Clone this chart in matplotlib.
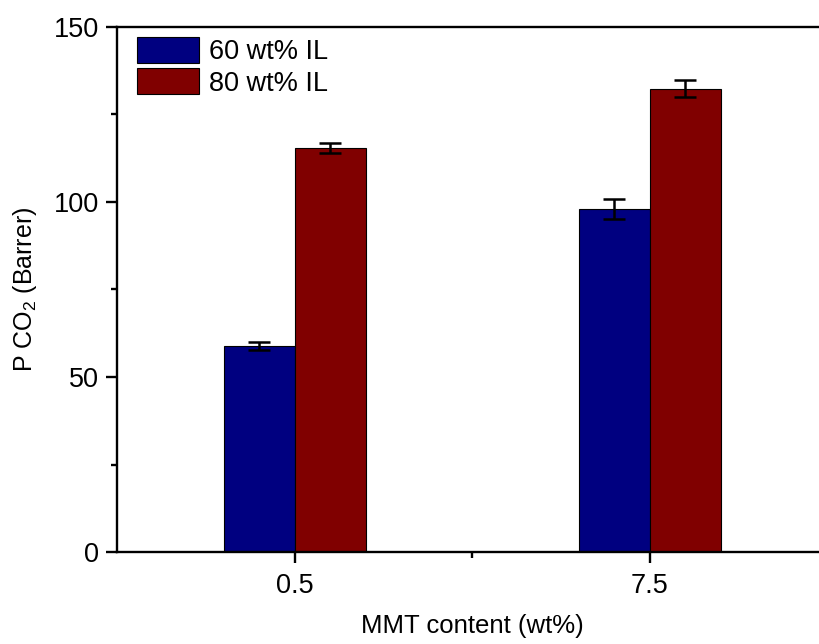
import matplotlib
matplotlib.use("Agg")
import matplotlib.pyplot as plt
import numpy as np
from matplotlib.ticker import MultipleLocator, FixedLocator

plt.rcParams['font.family'] = ['Liberation Sans', 'DejaVu Sans']
plt.rcParams['mathtext.default'] = 'regular'

categories = ["0.5", "7.5"]
series_names = ["60 wt% IL", "80 wt% IL"]
values_60 = [58.9, 98.0]
errors_60 = [1.1, 2.8]
values_80 = [115.4, 132.4]
errors_80 = [1.5, 2.4]
colors = ["#000080", "#800000"]

fig = plt.figure(figsize=(8.19, 6.44), dpi=100)
ax = fig.add_axes([117/819, 92/644, 710/819, 525/644])

x = np.arange(len(categories))
w = 0.2
ekw = dict(elinewidth=1.8, capthick=1.8, ecolor='black')
ax.bar(x - w/2, values_60, w, color=colors[0], edgecolor='black', linewidth=0.8,
       label=series_names[0], yerr=errors_60, capsize=8, error_kw=ekw, zorder=2)
ax.bar(x + w/2, values_80, w, color=colors[1], edgecolor='black', linewidth=0.8,
       label=series_names[1], yerr=errors_80, capsize=8, error_kw=ekw, zorder=2)

ax.set_xlim(-0.5, 1.5)
ax.set_ylim(0, 150)
ax.set_xticks(x)
ax.set_xticklabels(categories)
ax.xaxis.set_minor_locator(FixedLocator([0.5]))
ax.yaxis.set_major_locator(MultipleLocator(50))
ax.yaxis.set_minor_locator(MultipleLocator(25))

for s in ax.spines.values():
    s.set_linewidth(1.7)
ax.tick_params(which='major', direction='out', length=8, width=1.7, labelsize=19.5, pad=5)
ax.tick_params(which='minor', direction='out', length=4.5, width=1.7)
ax.tick_params(axis='x', which='major', pad=7)

ax.set_ylabel("P CO$_2$ (Barrer)", fontsize=18)
ax.yaxis.set_label_coords(-0.13, 0.5)
ax.yaxis.label.set_va('center')
ax.set_xlabel("MMT content (wt%)", fontsize=18.5)
ax.xaxis.set_label_coords(0.5, -0.118)
ax.xaxis.label.set_va('top')

leg = ax.legend(loc='upper left', bbox_to_anchor=(20/710, 1 - 10/525), frameon=False,
                fontsize=19.5, handlelength=2.3, handleheight=1.1, handletextpad=0.35,
                labelspacing=0.12, borderpad=0, borderaxespad=0)

fig.savefig("out.png", dpi=100)
